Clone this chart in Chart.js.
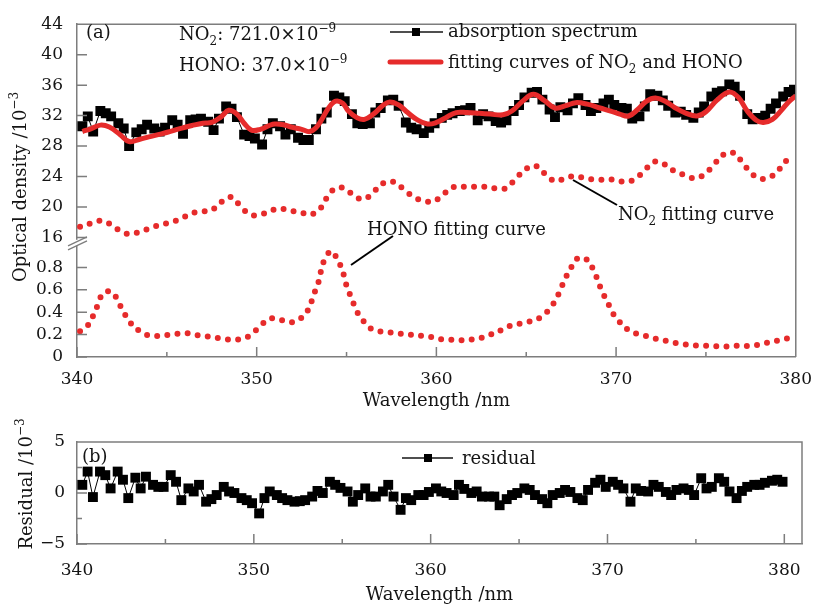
<!DOCTYPE html>
<html>
<head>
<meta charset="utf-8">
<script src="https://cdn.jsdelivr.net/npm/chart.js@4.4.1/dist/chart.umd.min.js"></script>
<style>
  html, body { margin: 0; padding: 0; background: #fff; }
  #wrap { position: relative; width: 824px; height: 608px; }
  canvas { position: absolute; left: 0; }
  #odChart { top: 0; }
  #resChart { top: 415px; }
</style>
</head>
<body>
<div id="wrap">
  <canvas id="odChart" width="824" height="415" style="width:824px;height:415px"></canvas>
  <canvas id="resChart" width="824" height="193" style="width:824px;height:193px"></canvas>
</div>
<script>
// measured spectrum (black squares) and its residual share one wavelength grid
const specWavelength = [
  340.3, 340.6, 340.9, 341.3, 341.6, 341.9, 342.3, 342.6, 342.9, 343.3, 343.6, 343.9,
  344.3, 344.6, 344.9, 345.3, 345.6, 345.9, 346.3, 346.6, 346.9, 347.3, 347.6, 347.9,
  348.3, 348.6, 348.9, 349.3, 349.6, 349.9, 350.3, 350.6, 350.9, 351.3, 351.6, 351.9,
  352.3, 352.6, 352.9, 353.3, 353.6, 353.9, 354.3, 354.6, 354.9, 355.3, 355.6, 355.9,
  356.3, 356.6, 356.9, 357.3, 357.6, 357.9, 358.3, 358.6, 358.9, 359.3, 359.6, 359.9,
  360.3, 360.6, 360.9, 361.3, 361.6, 361.9, 362.3, 362.6, 362.9, 363.3, 363.6, 363.9,
  364.3, 364.6, 364.9, 365.3, 365.6, 365.9, 366.3, 366.6, 366.9, 367.3, 367.6, 367.9,
  368.3, 368.6, 368.9, 369.3, 369.6, 369.9, 370.3, 370.6, 370.9, 371.3, 371.6, 371.9,
  372.3, 372.6, 372.9, 373.3, 373.6, 373.9, 374.3, 374.6, 374.9, 375.3, 375.6, 375.9,
  376.3, 376.6, 376.9, 377.3, 377.6, 377.9, 378.3, 378.6, 378.9, 379.3, 379.6, 379.9
];
const absorbance = [
  30.6, 31.9, 29.9, 32.6, 32.3, 31.9, 31.0, 30.3, 28.0, 29.8, 30.2, 30.8,
  30.3, 29.9, 30.4, 31.4, 30.8, 29.6, 31.4, 31.5, 31.6, 31.2, 30.1, 31.6,
  33.2, 32.9, 31.8, 29.5, 29.3, 29.0, 28.2, 30.2, 31.0, 30.6, 29.5, 30.2,
  29.1, 28.8, 28.8, 30.2, 31.6, 32.4, 34.6, 34.4, 33.9, 32.2, 31.0, 30.9,
  31.0, 32.4, 33.0, 34.0, 34.1, 33.3, 31.1, 30.4, 30.2, 29.7, 30.4, 31.0,
  31.7, 32.1, 32.3, 32.6, 32.7, 33.0, 31.4, 32.2, 31.9, 31.3, 31.1, 31.4,
  32.6, 33.4, 34.4, 35.0, 35.1, 34.1, 32.8, 31.8, 33.1, 32.7, 33.6, 34.3,
  33.4, 32.6, 33.0, 33.6, 34.1, 33.4, 33.0, 32.9, 31.6, 31.9, 33.2, 34.8,
  34.6, 34.0, 33.3, 32.4, 32.5, 32.1, 31.7, 32.4, 33.2, 34.5, 35.0, 35.2,
  36.1, 35.8, 34.6, 32.2, 31.5, 31.7, 32.0, 32.9, 33.6, 34.5, 35.1, 35.4
];
const residual = [
  0.8, 2.1, -0.4, 2.1, 1.75, 0.45, 2.1, 1.3, -0.5, 1.5, 0.45, 1.6,
  0.8, 0.6, 0.6, 1.75, 1.1, -0.7, 0.45, 0.15, 0.8, -0.85, -0.6, -0.2,
  0.6, 0.15, 0.0, -0.5, -0.7, -1.0, -2.0, -0.5, 0.15, -0.2, -0.5, -0.7,
  -0.85, -0.8, -0.7, -0.35, 0.2, 0.0, 1.1, 0.8, 0.5, 0.15, -0.85, -0.2,
  0.45, -0.35, -0.35, 0.15, 0.8, -0.35, -1.65, -0.5, -0.7, -0.2, -0.2, 0.1,
  0.45, 0.15, 0.0, -0.2, 0.8, 0.4, 0.0, 0.15, -0.35, -0.35, -0.35, -1.2,
  -0.6, -0.2, 0.0, 0.45, 0.3, -0.2, -0.6, -1.0, -0.2, 0.0, 0.3, 0.1,
  -0.5, -0.7, 0.3, 1.0, 1.3, 0.6, 1.1, 0.8, 0.45, -0.85, 0.45, 0.2,
  0.15, 0.8, 0.6, 0.1, -0.2, 0.3, 0.45, 0.3, -0.2, 1.45, 0.45, 0.6,
  1.45, 1.1, 0.15, -0.5, 0.2, 0.6, 0.8, 0.8, 1.0, 1.2, 1.3, 1.1
];

// red solid fit (NO2 + HONO)
const fitWavelength = [
  340.3, 340.8, 341.3, 341.8, 342.4, 342.9, 343.5, 344.0, 344.7, 345.3, 345.9, 346.4, 347.0,
  347.5, 348.0, 348.45, 348.9, 349.3, 349.7, 350.2, 350.7, 351.0, 351.5, 351.9, 352.5, 352.95,
  353.3, 353.6, 354.0, 354.4, 354.8, 355.1, 355.6, 356.0, 356.5, 357.0, 357.4, 357.9, 358.4,
  358.9, 359.5, 360.0, 360.5, 361.1, 361.7, 362.4, 363.0, 363.7, 364.2, 364.8, 365.4, 366.0,
  366.6, 367.2, 367.75, 368.4, 369.1, 369.7, 370.2, 370.7, 371.2, 371.7, 372.2, 372.8, 373.3,
  373.9, 374.5, 375.0, 375.6, 376.3, 376.8, 377.3, 377.8, 378.2, 378.7, 379.2, 379.6, 380.0
];
const fitDensity = [
  29.9, 30.3, 30.75, 30.5, 29.5, 28.6, 28.9, 29.2, 29.6, 30.0, 30.4, 30.7, 31.0,
  31.1, 31.8, 32.7, 32.2, 31.0, 30.1, 30.2, 30.7, 30.9, 30.8, 30.5, 30.2, 29.9,
  30.4, 31.4, 33.0, 33.9, 33.6, 32.6, 31.7, 31.5, 32.2, 33.3, 33.8, 33.4, 32.4,
  31.5, 30.9, 31.1, 31.7, 32.4, 32.4, 32.3, 32.2, 32.1, 32.6, 33.9, 34.8, 34.0,
  33.0, 33.3, 33.7, 33.5, 33.0, 32.6, 32.2, 31.95, 32.8, 33.9, 34.3, 33.8, 33.0,
  32.3, 31.95, 32.5, 34.0, 35.1, 34.4, 32.6, 31.4, 31.1, 31.5, 32.7, 33.8, 34.6
];

// NO2 fitting curve (upper axis, dotted)
const no2Wavelength = [
  340.17, 340.75, 341.3, 341.9, 342.45, 343.0, 343.6, 344.15, 344.7, 345.25, 345.8, 346.4,
  346.95, 347.5, 348.1, 348.6, 349.1, 349.65, 350.2, 350.8, 351.3, 351.9, 352.45, 353.0,
  353.55, 353.9, 354.35, 354.9, 355.45, 356.0, 356.55, 357.1, 357.6, 358.2, 358.75, 359.35,
  359.9, 360.45, 361.0, 361.6, 362.15, 362.7, 363.3, 363.85, 364.4, 364.95, 365.5, 366.05,
  366.6, 367.15, 367.7, 368.25, 368.85, 369.4, 369.95, 370.5, 371.05, 371.6, 372.15, 372.7,
  373.25, 373.8, 374.4, 374.95, 375.45, 376.0, 376.55, 377.05, 377.5, 378.0, 378.55, 379.1, 379.55
];
const no2Density = [
  17.4, 17.85, 18.2, 17.7, 16.8, 16.45, 16.85, 17.3, 17.7, 18.0, 18.5, 19.2,
  19.4, 19.6, 20.75, 21.3, 20.1, 19.0, 19.0, 19.55, 19.8, 19.5, 19.3, 19.0,
  19.85, 21.2, 22.4, 22.45, 21.4, 21.05, 22.1, 23.2, 23.3, 22.3, 21.3, 20.75,
  20.8, 21.8, 22.65, 22.65, 22.65, 22.65, 22.45, 22.45, 23.65, 24.95, 25.4, 24.35,
  23.4, 23.75, 24.05, 23.8, 23.6, 23.6, 23.6, 23.3, 23.65, 24.85, 25.95, 25.6,
  24.7, 24.2, 23.75, 24.35, 25.6, 26.9, 27.1, 25.8, 24.5, 23.75, 23.9, 25.0, 26.3
];

// HONO fitting curve (lower axis, dotted)
const honoWavelength = [
  340.17, 340.7, 340.95, 341.2, 341.45, 341.95, 342.3, 342.6, 342.95, 343.5, 344.05, 344.6,
  345.2, 345.75, 346.3, 346.85, 347.4, 348.0, 348.55, 349.1, 349.7, 350.2, 350.8, 351.35,
  351.9, 352.45, 352.9, 353.1, 353.3, 353.5, 353.6, 353.8, 354.15, 354.5, 354.75, 354.9,
  355.05, 355.3, 355.5, 355.85, 356.3, 356.85, 357.4, 357.95, 358.5, 359.1, 359.65, 360.2,
  360.75, 361.3, 361.9, 362.45, 363.0, 363.6, 364.15, 364.7, 365.25, 365.85, 366.35, 366.7,
  366.95, 367.2, 367.5, 367.9, 368.45, 368.75, 369.0, 369.2, 369.5, 369.75, 370.1, 370.65,
  371.2, 371.75, 372.3, 372.9, 373.45, 374.0, 374.6, 375.15, 375.7, 376.25, 376.8, 377.4,
  377.95, 378.5, 379.1, 379.65
];
const honoDensity = [
  0.23, 0.30, 0.39, 0.48, 0.57, 0.58, 0.49, 0.40, 0.31, 0.23, 0.19, 0.19,
  0.20, 0.21, 0.21, 0.19, 0.18, 0.165, 0.155, 0.16, 0.20, 0.28, 0.345, 0.33,
  0.31, 0.345, 0.43, 0.52, 0.61, 0.70, 0.785, 0.875, 0.945, 0.87, 0.78, 0.70,
  0.61, 0.52, 0.43, 0.34, 0.26, 0.23, 0.22, 0.21, 0.20, 0.19, 0.18, 0.16,
  0.155, 0.15, 0.155, 0.17, 0.20, 0.24, 0.28, 0.30, 0.32, 0.36, 0.44, 0.53,
  0.62, 0.71, 0.80, 0.885, 0.86, 0.77, 0.68, 0.59, 0.50, 0.41, 0.33, 0.245,
  0.205, 0.185, 0.16, 0.14, 0.12, 0.11, 0.10, 0.10, 0.095, 0.095, 0.10, 0.10,
  0.11, 0.13, 0.15, 0.17
];

const xTicks = [340, 350, 360, 370, 380];
const xMinorTicks = [345, 355, 365, 375];
const odUpperTicks = [16, 20, 24, 28, 32, 36, 40, 44];
const odLowerTicks = [0, 0.2, 0.4, 0.6, 0.8];
const residualTicks = [-5, 0, 5];
const residualMinorTicks = [-2.5, 2.5];

const AXIS = '#7d7d7d';
const INK = '#141414';
const RED = '#e62b2b';
const SERIF = '"DejaVu Serif", serif';
const tickFont = { family: SERIF, size: 17 };
const titleFont = { family: SERIF, size: 18 };

function pts(xs, ys) {
  return xs.map((x, i) => ({ x, y: ys[i] }));
}

function setTicks(values) {
  return scale => { scale.ticks = values.map(value => ({ value })); };
}

function fmt(v) {
  return v < 0 ? '\u2212' + Math.abs(v) : String(v);
}

// text with sub/superscripts, alphabetic baseline
function rich(ctx, parts, x, y, size, measureOnly) {
  ctx.save();
  ctx.textBaseline = 'alphabetic';
  ctx.textAlign = 'left';
  ctx.fillStyle = INK;
  for (const [txt, kind] of parts) {
    const s = kind ? Math.round(size * 0.68) : size;
    ctx.font = s + 'px ' + SERIF;
    const dy = kind === 'sub' ? size * 0.28 : kind === 'sup' ? -size * 0.42 : 0;
    if (!measureOnly) ctx.fillText(txt, x, y + dy);
    x += ctx.measureText(txt).width;
  }
  ctx.restore();
  return x;
}

function verticalTitle(ctx, parts, baselineX, cy, size) {
  ctx.save();
  ctx.translate(baselineX, cy);
  ctx.rotate(-Math.PI / 2);
  const w = rich(ctx, parts, 0, 0, size, true);
  rich(ctx, parts, -w / 2, 0, size);
  ctx.restore();
}

// inward tick marks and the top/right frame
function drawFrameAndTicks(chart, minor) {
  const ctx = chart.ctx;
  const a = chart.chartArea;
  ctx.save();
  ctx.strokeStyle = AXIS;
  ctx.lineWidth = 1.5;
  ctx.beginPath();
  for (const id of Object.keys(chart.scales)) {
    const s = chart.scales[id];
    const marks = s.ticks.map(t => [t.value, 10]).concat((minor[id] || []).map(v => [v, 5]));
    for (const [v, len] of marks) {
      const p = s.getPixelForValue(v);
      if (s.isHorizontal()) {
        ctx.moveTo(p, s.top);
        ctx.lineTo(p, s.top - len);
      } else {
        ctx.moveTo(s.right, p);
        ctx.lineTo(s.right + len, p);
      }
    }
  }
  ctx.moveTo(a.left, a.top);
  ctx.lineTo(a.right, a.top);
  ctx.lineTo(a.right, a.bottom);
  ctx.stroke();
  ctx.restore();
}

function legendSquare(ctx, x1, x2, y, cx, side) {
  ctx.save();
  ctx.strokeStyle = INK;
  ctx.lineWidth = 1.5;
  ctx.beginPath();
  ctx.moveTo(x1, y);
  ctx.lineTo(x2, y);
  ctx.stroke();
  ctx.fillStyle = '#000';
  ctx.fillRect(cx - side / 2, y - side / 2, side, side);
  ctx.restore();
}

function leader(ctx, x1, y1, x2, y2) {
  ctx.save();
  ctx.strokeStyle = '#000';
  ctx.lineWidth = 2;
  ctx.beginPath();
  ctx.moveTo(x1, y1);
  ctx.lineTo(x2, y2);
  ctx.stroke();
  ctx.restore();
}

const odDecor = {
  id: 'odDecor',
  afterDraw(chart) {
    const ctx = chart.ctx;
    drawFrameAndTicks(chart, { x: xMinorTicks });

    // axis break between the two stacked y scales
    const yb = chart.scales.yLow.top;
    const xa = chart.chartArea.left;
    ctx.save();
    ctx.fillStyle = '#fff';
    ctx.fillRect(xa - 2, yb - 3, 4, 6);
    ctx.strokeStyle = AXIS;
    ctx.lineWidth = 1.3;
    ctx.beginPath();
    for (const d of [0, 4]) {
      ctx.moveTo(xa - 9, yb + 3 + d);
      ctx.lineTo(xa + 10, yb - 6 + d);
    }
    ctx.stroke();
    ctx.restore();

    rich(ctx, [['(a)']], 86, 38, 18);
    rich(ctx, [['NO'], ['2', 'sub'], [': 721.0\u00d710'], ['\u22129', 'sup']], 179, 40, 18);
    rich(ctx, [['HONO: 37.0\u00d710'], ['\u22129', 'sup']], 179, 71, 18);

    legendSquare(ctx, 390, 443, 32, 416, 8);
    rich(ctx, [['absorption spectrum']], 448, 37, 18);
    ctx.save();
    ctx.strokeStyle = RED;
    ctx.lineWidth = 5;
    ctx.lineCap = 'round';
    ctx.beginPath();
    ctx.moveTo(390, 62);
    ctx.lineTo(441, 62);
    ctx.stroke();
    ctx.restore();
    rich(ctx, [['fitting curves of NO'], ['2', 'sub'], [' and HONO']], 448, 68, 18);

    rich(ctx, [['HONO fitting curve']], 367, 235, 18);
    leader(ctx, 393, 236, 351, 265);
    rich(ctx, [['NO'], ['2', 'sub'], [' fitting curve']], 618, 220, 18);
    leader(ctx, 573, 180, 617, 205);

    verticalTitle(ctx, [['Optical density /10'], ['\u22123', 'sup']], 26, 187, 18);
  }
};

const resDecor = {
  id: 'resDecor',
  afterDraw(chart) {
    const ctx = chart.ctx;
    drawFrameAndTicks(chart, { x: xMinorTicks, y: residualMinorTicks });
    rich(ctx, [['(b)']], 82, 47, 18);
    legendSquare(ctx, 402, 453, 43, 428, 8);
    rich(ctx, [['residual']], 462, 49, 18);
    verticalTitle(ctx, [['Residual /10'], ['\u22123', 'sup']], 32, 69, 18);
  }
};

const axisCommon = {
  type: 'linear',
  grid: { display: false, drawTicks: false },
  border: { display: true, color: AXIS, width: 1.5 },
};

new Chart(document.getElementById('odChart'), {
  type: 'line',
  data: {
    datasets: [
      {
        label: 'fitting curves of NO2 and HONO',
        data: pts(fitWavelength, fitDensity),
        yAxisID: 'yTop',
        borderColor: RED,
        borderWidth: 5,
        pointRadius: 0,
        tension: 0.4,
        order: 0
      },
      {
        label: 'absorption spectrum',
        data: pts(specWavelength, absorbance),
        yAxisID: 'yTop',
        borderColor: '#000',
        borderWidth: 1,
        pointStyle: 'rect',
        pointRadius: 7,
        pointBackgroundColor: '#000',
        pointBorderWidth: 0,
        order: 1
      },
      {
        label: 'NO2 fitting curve',
        data: pts(no2Wavelength, no2Density),
        yAxisID: 'yTop',
        borderColor: RED,
        borderWidth: 6,
        borderDash: [0, 10.2],
        borderCapStyle: 'round',
        pointRadius: 0,
        tension: 0.4,
        order: 2
      },
      {
        label: 'HONO fitting curve',
        data: pts(honoWavelength, honoDensity),
        yAxisID: 'yLow',
        borderColor: RED,
        borderWidth: 6,
        borderDash: [0, 10.2],
        borderCapStyle: 'round',
        pointRadius: 0,
        tension: 0.4,
        order: 2
      }
    ]
  },
  options: {
    responsive: false,
    animation: false,
    events: [],
    layout: { padding: { top: 16, right: 22, bottom: 0, left: 0 } },
    plugins: { legend: { display: false }, tooltip: { enabled: false } },
    scales: {
      x: {
        ...axisCommon,
        min: 340,
        max: 380,
        afterBuildTicks: setTicks(xTicks),
        afterFit: s => { s.height = 58; },
        ticks: { padding: 12, font: tickFont, color: INK, autoSkip: false, maxRotation: 0 },
        title: { display: true, text: 'Wavelength /nm', font: titleFont, color: INK, padding: { top: 0, bottom: 3 } }
      },
      yTop: {
        ...axisCommon,
        position: 'left',
        stack: 'od',
        stackWeight: 224,
        weight: 1,
        min: 15.3,
        max: 44,
        afterBuildTicks: setTicks(odUpperTicks),
        afterFit: s => { s.width = 77; },
        ticks: { padding: 14, font: tickFont, color: INK, autoSkip: false, callback: fmt }
      },
      yLow: {
        ...axisCommon,
        position: 'left',
        stack: 'od',
        stackWeight: 117,
        weight: 0,
        min: 0,
        max: 1.02,
        afterBuildTicks: setTicks(odLowerTicks),
        afterFit: s => { s.width = 77; },
        ticks: { padding: 14, font: tickFont, color: INK, autoSkip: false, callback: fmt }
      }
    }
  },
  plugins: [odDecor]
});

new Chart(document.getElementById('resChart'), {
  type: 'line',
  data: {
    datasets: [{
      label: 'residual',
      data: pts(specWavelength, residual),
      borderColor: '#000',
      borderWidth: 1,
      pointStyle: 'rect',
      pointRadius: 7,
      pointBackgroundColor: '#000',
      pointBorderWidth: 0
    }]
  },
  options: {
    responsive: false,
    animation: false,
    events: [],
    layout: { padding: { top: 27, right: 22, bottom: 0, left: 0 } },
    plugins: { legend: { display: false }, tooltip: { enabled: false } },
    scales: {
      x: {
        ...axisCommon,
        min: 340,
        max: 381,
        afterBuildTicks: setTicks(xTicks),
        afterFit: s => { s.height = 64; },
        ticks: { padding: 16, font: tickFont, color: INK, autoSkip: false, maxRotation: 0 },
        title: { display: true, text: 'Wavelength /nm', font: titleFont, color: INK, padding: { top: 0, bottom: 2 } }
      },
      y: {
        ...axisCommon,
        min: -5,
        max: 5,
        afterBuildTicks: setTicks(residualTicks),
        afterFit: s => { s.width = 77; },
        ticks: { padding: 12, font: tickFont, color: INK, autoSkip: false, callback: fmt }
      }
    }
  },
  plugins: [resDecor]
});
</script>
</body>
</html>
